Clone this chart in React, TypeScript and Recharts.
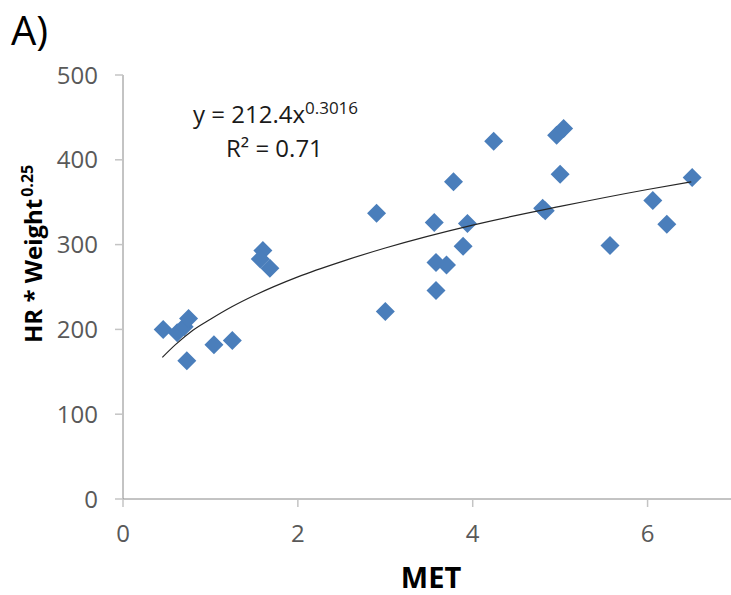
import { ScatterChart, Scatter, XAxis, YAxis } from "recharts";

// MET (x) and HR * Weight^0.25 (y) for each subject
const metValues = [
  0.46, 0.62, 0.7, 0.75, 0.73, 1.04, 1.25, 1.6, 1.57, 1.68, 2.9, 3.0, 3.56,
  3.58, 3.7, 3.58, 3.78, 3.94, 3.89, 4.24, 4.8, 4.83, 4.96, 5.04, 5.0, 5.57,
  6.06, 6.22, 6.51,
];
const hrWeightValues = [
  200, 196, 203, 213, 163, 182, 187, 293, 283, 272, 337, 221, 326, 279, 276,
  246, 374, 325, 298, 422, 343, 340, 429, 437, 383, 299, 352, 324, 379,
];

// power trendline as drawn in the figure
const trendMet = [0.45, 0.6, 0.8, 1, 1.25, 1.5, 2, 2.5, 3, 4, 5, 6, 6.5];
const trendFit = [167, 182, 199, 212, 227, 240, 262, 280, 296, 323, 345, 365, 374];

const xTicks = [0, 2, 4, 6];
const yTicks = [0, 100, 200, 300, 400, 500];

const points = metValues.map((x, i) => ({ x, y: hrWeightValues[i] }));
const trend = trendMet.map((x, i) => ({ x, y: trendFit[i] }));

const FONT = "'Open Sans', sans-serif";

const Diamond = (props: any) => {
  const { cx, cy } = props;
  const r = 9.5;
  return (
    <polygon
      points={`${cx},${cy - r} ${cx + r},${cy} ${cx},${cy + r} ${cx - r},${cy}`}
      fill="#4A7EBB"
    />
  );
};

const App = () => {
  return (
    <div style={{ position: "absolute", left: 0, top: 0, width: 731, height: 595, overflow: "hidden" }}>
      <ScatterChart
        width={731}
        height={595}
        margin={{ top: 75, right: -4, bottom: 65, left: 63 }}
        style={{ fontFamily: FONT }}
      >
        <XAxis
          type="number"
          dataKey="x"
          domain={[0, 7]}
          ticks={xTicks}
          height={31}
          stroke="#888888"
          tickLine={{ stroke: "#c4c4c4", strokeWidth: 1.5 }}
          tickSize={8}
          tickMargin={18}
          tick={{ fill: "#595959", fontSize: 24, fontFamily: FONT }}
          allowDataOverflow
        />
        <YAxis
          type="number"
          dataKey="y"
          domain={[0, 500]}
          ticks={yTicks}
          width={60}
          stroke="#888888"
          tickLine={{ stroke: "#c4c4c4", strokeWidth: 1.5 }}
          tickSize={8}
          tickMargin={17}
          tick={{ fill: "#595959", fontSize: 24, fontFamily: FONT }}
        />
        <Scatter data={points} shape={<Diamond />} isAnimationActive={false} />
        <Scatter
          data={trend}
          line={{ stroke: "#262626", strokeWidth: 1.2 }}
          lineType="joint"
          lineJointType="monotoneX"
          shape={() => <g />}
          isAnimationActive={false}
        />
      </ScatterChart>
      <svg
        width={731}
        height={595}
        style={{ position: "absolute", left: 0, top: 0, pointerEvents: "none", fontFamily: FONT }}
      >
        <text x={11} y={45} fontSize={40} fill="#000">
          A)
        </text>
        <text x={193} y={123} fontSize={24} fill="#1a1a1a">
          y = 212.4x
          <tspan dy={-9} fontSize={17}>
            0.3016
          </tspan>
        </text>
        <text x={226} y={157} fontSize={24} fill="#1a1a1a">
          R² = 0.71
        </text>
        <text x={431} y={588} fontSize={29} fontWeight="bold" textAnchor="middle" fill="#000">
          MET
        </text>
        <text transform="translate(42, 343) rotate(-90)" fontSize={24} fontWeight="bold" fill="#000">
          HR * Weight
          <tspan dx={2} dy={-9} fontSize={16}>
            0.25
          </tspan>
        </text>
      </svg>
    </div>
  );
};

export default App;
